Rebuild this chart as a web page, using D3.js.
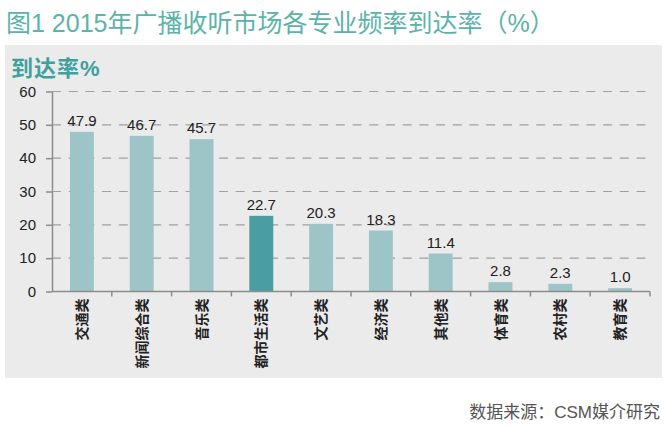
<!DOCTYPE html>
<html>
<head>
<meta charset="utf-8">
<script src="https://cdn.jsdelivr.net/npm/d3@7"></script>
<style>
  body { margin: 0; background: #fff; }
  svg { display: block; }
</style>
</head>
<body>
<div id="chart"></div>
<script>
// Data
let categories = ["交通类", "新闻综合类", "音乐类", "都市生活类", "文艺类", "经济类", "其他类", "体育类", "农村类", "教育类"];
let values = [47.9, 46.7, 45.7, 22.7, 20.3, 18.3, 11.4, 2.8, 2.3, 1.0];
let highlighted = ["都市生活类"];
let yTicks = [0, 10, 20, 30, 40, 50, 60];

let width = 667, height = 427;
let margin = {top: 91.5, right: 17, bottom: 135.5, left: 52};
let mixed = "'Liberation Sans', 'Noto Sans CJK SC', sans-serif";
let latin = "'Liberation Sans', Arial, sans-serif";

let svg = d3.select("#chart").append("svg")
    .attr("width", width)
    .attr("height", height);

// Grey panel
svg.append("rect")
    .attr("x", 5).attr("y", 45)
    .attr("width", 657).attr("height", 333)
    .attr("fill", "#ebebeb");

// Title
svg.append("text")
    .attr("x", 6).attr("y", 32)
    .attr("font-family", mixed)
    .attr("font-size", 25)
    .attr("fill", "#5cb3aa")
    .text("图1 2015年广播收听市场各专业频率到达率（%）");

// Y axis title
svg.append("text")
    .attr("x", 11).attr("y", 76)
    .attr("font-family", mixed)
    .attr("font-size", 22)
    .attr("font-weight", "bold")
    .attr("letter-spacing", 1)
    .attr("fill", "#3fa19e")
    .text("到达率%");

let x = d3.scaleBand()
    .domain(categories)
    .range([margin.left, width - margin.right])
    .paddingInner(0.6)
    .paddingOuter(0.3);

let y = d3.scaleLinear()
    .domain([0, 60])
    .range([height - margin.bottom, margin.top]);

// Dashed gridlines
svg.append("g").selectAll("line")
    .data(yTicks.slice(1))
    .enter().append("line")
    .attr("x1", margin.left).attr("x2", width - margin.right - 2)
    .attr("y1", d => y(d)).attr("y2", d => y(d))
    .attr("stroke", "#a0a0a0")
    .attr("stroke-width", 1.2)
    .attr("stroke-dasharray", "9,7.7");

// Bars
svg.append("g").selectAll("rect")
    .data(values)
    .enter().append("rect")
    .attr("x", (d, i) => x(categories[i]))
    .attr("y", d => y(d))
    .attr("width", x.bandwidth())
    .attr("height", d => y(0) - y(d))
    .attr("fill", (d, i) => highlighted.includes(categories[i]) ? "#4a9ea3" : "#9dc4c7");

// Value labels
svg.append("g").selectAll("text")
    .data(values)
    .enter().append("text")
    .attr("x", (d, i) => x(categories[i]) + x.bandwidth() / 2)
    .attr("y", d => y(d) - 6)
    .attr("text-anchor", "middle")
    .attr("font-family", latin)
    .attr("font-size", 15)
    .attr("fill", "#222")
    .text(d => d.toFixed(1));

// Y axis
let yAxis = svg.append("g")
    .attr("transform", "translate(" + margin.left + ",0)")
    .call(d3.axisLeft(y).tickValues(yTicks).tickSize(6).tickPadding(10).tickSizeOuter(0));
yAxis.select(".domain").attr("stroke", "#8c8c8c").attr("stroke-width", 1.5);
yAxis.selectAll(".tick line").attr("stroke", "#8c8c8c").attr("stroke-width", 1.5);
yAxis.selectAll(".tick text")
    .attr("font-family", latin)
    .attr("font-size", 15)
    .attr("fill", "#222");

// X axis line and boundary ticks
let step = x.step();
let bounds = d3.range(categories.length + 1).map(i => margin.left + i * step);
svg.append("line")
    .attr("x1", margin.left).attr("x2", bounds[bounds.length - 1])
    .attr("y1", y(0)).attr("y2", y(0))
    .attr("stroke", "#8c8c8c").attr("stroke-width", 1.5);
svg.append("g").selectAll("line")
    .data(bounds.slice(1))
    .enter().append("line")
    .attr("x1", d => d).attr("x2", d => d)
    .attr("y1", y(0)).attr("y2", y(0) + 5)
    .attr("stroke", "#8c8c8c").attr("stroke-width", 1.5);

// Category labels, rotated
svg.append("g").selectAll("text")
    .data(categories)
    .enter().append("text")
    .attr("transform", d => "translate(" + (x(d) + x.bandwidth() / 2 + 5) + "," + (y(0) + 7) + ") rotate(-90)")
    .attr("text-anchor", "end")
    .attr("font-family", mixed)
    .attr("font-size", 14)
    .attr("font-weight", "bold")
    .attr("fill", "#222")
    .text(d => d);

// Source
svg.append("text")
    .attr("x", 660).attr("y", 418)
    .attr("text-anchor", "end")
    .attr("font-family", mixed)
    .attr("font-size", 17)
    .attr("fill", "#555")
    .text("数据来源：CSM媒介研究");
</script>
</body>
</html>
